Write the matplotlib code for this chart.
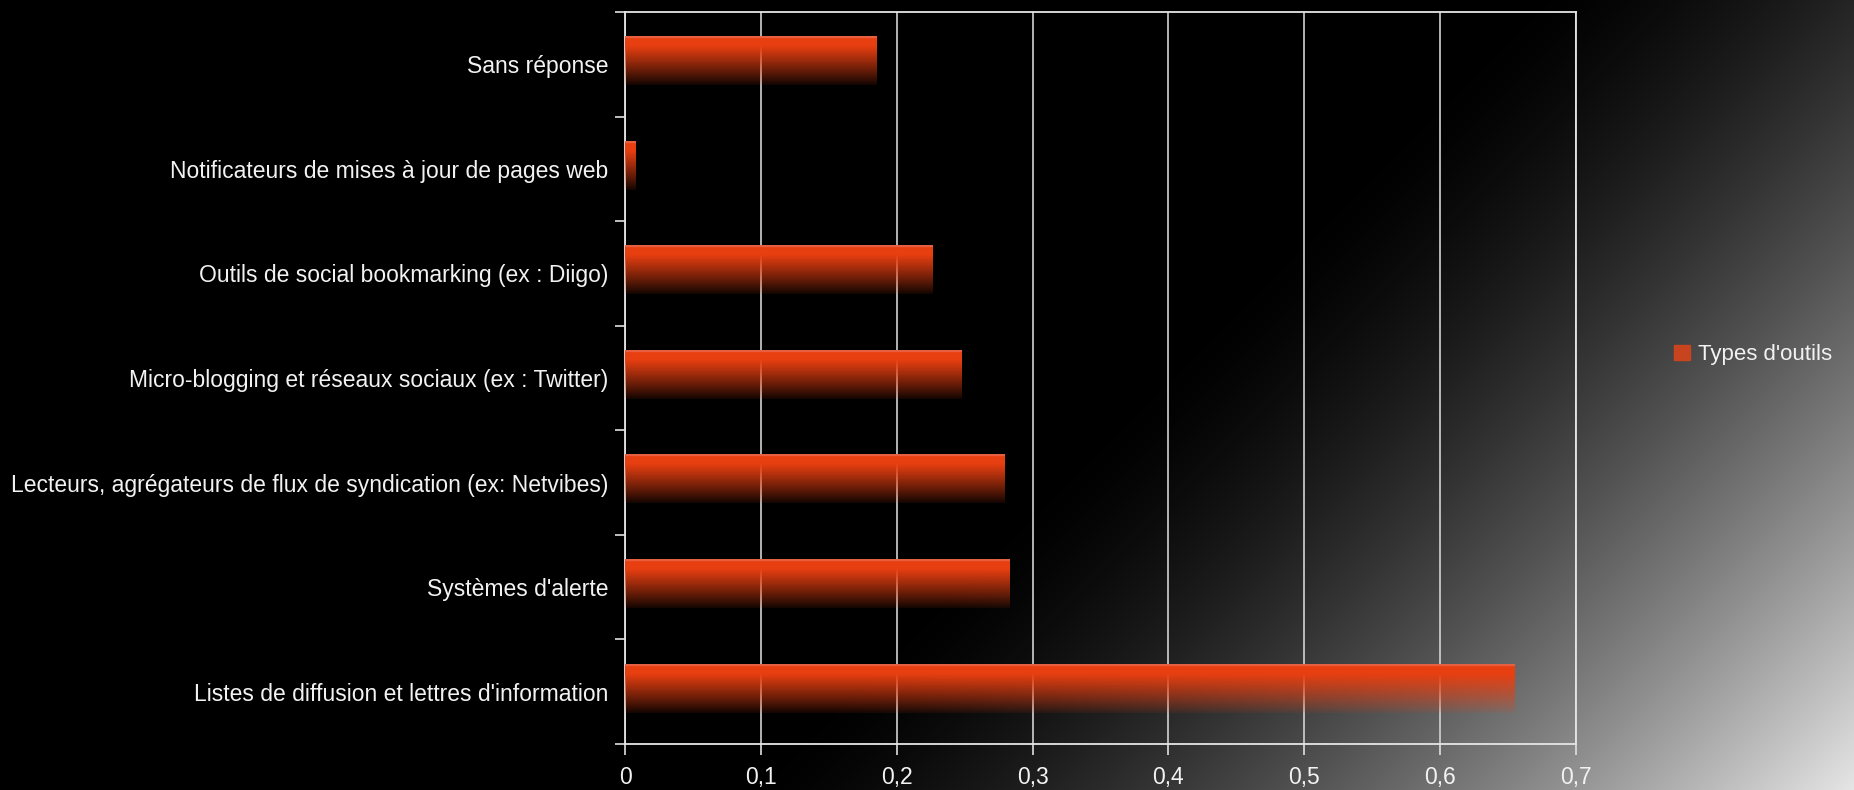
import numpy as np
import matplotlib.pyplot as plt
from matplotlib.patches import Patch
from matplotlib.ticker import FuncFormatter

# categories from bottom to top
categories = ["Listes de diffusion et lettres d'information",
              "Systèmes d'alerte",
              "Lecteurs, agrégateurs de flux de syndication (ex: Netvibes)",
              "Micro-blogging et réseaux sociaux (ex : Twitter)",
              "Outils de social bookmarking (ex : Diigo)",
              "Notificateurs de mises à jour de pages web",
              "Sans réponse"]
values = [0.655, 0.283, 0.279, 0.248, 0.226, 0.008, 0.185]
series_name = "Types d'outils"
xticks = [0, 0.1, 0.2, 0.3, 0.4, 0.5, 0.6, 0.7]

W, H = 1854, 790
font = ['Liberation Sans', 'DejaVu Sans']
txt_col = '#f2f2f2'

fig = plt.figure(figsize=(W / 100, H / 100), dpi=100)

# diagonal black -> light grey background
bg = fig.add_axes([0, 0, 1, 1])
xx, yy = np.meshgrid(np.arange(0, W, 2), np.arange(0, H, 2))
s = np.clip((xx + yy - 1520) / 1124.0, 0, 1.05)
grey = np.clip(230 * s ** 1.5, 0, 240) / 255.0
bg.imshow(grey, cmap='gray', vmin=0, vmax=1, extent=[0, 1, 0, 1],
          aspect='auto', interpolation='bilinear')
bg.axis('off')

ax = fig.add_axes([625 / W, 1 - 744 / H, (1576 - 625) / W, (744 - 12) / H])
ax.patch.set_alpha(0)

ypos = np.arange(len(categories))
bars = ax.barh(ypos + 0.03, values, height=0.46, color='none', zorder=3)

# vertical fade on every bar
t = np.linspace(0, 1, 120)
grad = np.zeros((len(t), 1, 4))
grad[:, 0, 0] = 0.91
grad[:, 0, 1] = 0.25
grad[:, 0, 2] = 0.07
edge = t < 0.035
grad[edge, 0, 1] = 0.38
grad[edge, 0, 2] = 0.26
grad[:, 0, 3] = np.where(t < 0.2, 1.0, np.clip(1 - (t - 0.2) / 0.85, 0, 1) ** 0.9)
for b in bars:
    x0, y0, w, h = b.get_x(), b.get_y(), b.get_width(), b.get_height()
    ax.imshow(grad, extent=[x0, x0 + w, y0, y0 + h], aspect='auto',
              interpolation='bilinear', zorder=3)

ax.set_xlim(0, 0.7)
ax.set_ylim(-0.5, len(categories) - 0.5)

ax.set_xticks(xticks)
ax.xaxis.set_major_formatter(FuncFormatter(
    lambda v, p: '0' if v == 0 else f'{v:.1f}'.replace('.', ',')))
ax.grid(axis='x', color='#d2d2d2', lw=1.2, zorder=1)
ax.tick_params(axis='x', colors='#e0e0e0', length=8, width=1.2, pad=8,
               labelcolor=txt_col)

ax.set_yticks(np.arange(-0.5, len(categories), 1))
ax.set_yticklabels([])
ax.set_yticks(ypos, minor=True)
ax.set_yticklabels(categories, minor=True)
ax.tick_params(axis='y', which='major', colors='#e0e0e0', length=7, width=1.2)
ax.tick_params(axis='y', which='minor', length=0, pad=12, labelcolor=txt_col)

for lab in ax.get_xticklabels():
    lab.set_family(font)
    lab.set_fontsize(16.5)
for lab in ax.get_yticklabels(minor=True):
    lab.set_family(font)
    lab.set_fontsize(16.5)

for side in ['left', 'bottom', 'top', 'right']:
    ax.spines[side].set_color('#e6e6e6')
    ax.spines[side].set_linewidth(1.3)

fig.legend(handles=[Patch(color='#c8441f', label=series_name)],
           loc='center left', bbox_to_anchor=(1674 / W, 1 - 355 / H),
           frameon=False, handlelength=0.7, handleheight=0.7,
           handletextpad=0.4, borderpad=0, borderaxespad=0,
           labelcolor=txt_col, prop={'family': font, 'size': 16})

fig.savefig('out.png', dpi=100)
